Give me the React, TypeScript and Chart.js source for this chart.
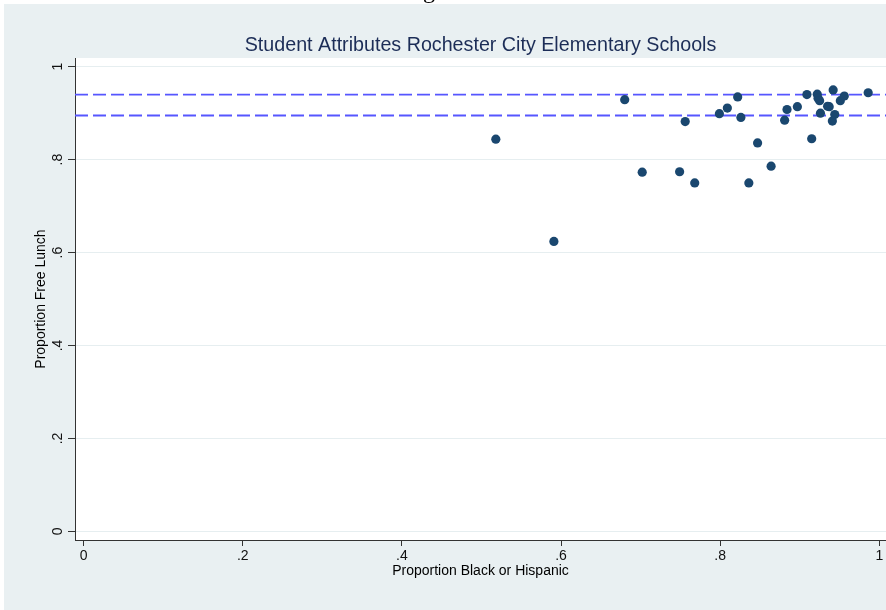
import React, { useEffect, useRef } from "react";
import { Chart, registerables } from "chart.js";

Chart.register(...registerables);

// Proportion Black or Hispanic (x) and Proportion Free Lunch (y), one entry per school
const pctBlackHispanic = [
  0.518, 0.591, 0.68, 0.702, 0.749, 0.756, 0.768, 0.799, 0.809, 0.822,
  0.826, 0.836, 0.847, 0.864, 0.881, 0.884, 0.897, 0.909, 0.915, 0.922,
  0.923, 0.925, 0.926, 0.935, 0.937, 0.942, 0.944, 0.941, 0.951, 0.956,
  0.986,
];
const pctFreeLunch = [
  0.844, 0.624, 0.929, 0.773, 0.774, 0.882, 0.75, 0.899, 0.911, 0.935,
  0.891, 0.75, 0.836, 0.786, 0.885, 0.908, 0.914, 0.94, 0.845, 0.941,
  0.932, 0.927, 0.9, 0.915, 0.914, 0.95, 0.897, 0.883, 0.927, 0.937,
  0.944,
];

// Dashed horizontal reference lines
const referenceLines = [0.94, 0.895];

const xTicks = [0, 0.2, 0.4, 0.6, 0.8, 1];
const xTickLabels = ["0", ".2", ".4", ".6", ".8", "1"];
const yTicks = [0, 0.2, 0.4, 0.6, 0.8, 1];
const yTickLabels = ["0", ".2", ".4", ".6", ".8", "1"];

const X_MIN = -0.0109;
const X_MAX = 1.0084;
const Y_MIN = -0.0185;
const Y_MAX = 1.0187;

const TITLE = "Student Attributes Rochester City Elementary Schools";
const X_TITLE = "Proportion Black or Hispanic";
const Y_TITLE = "Proportion Free Lunch";

const FONT = "'Liberation Sans', Arial, Helvetica, sans-serif";

const bgPlugin = {
  id: "stataBackground",
  beforeDraw(chart: any) {
    const { ctx, width, height, chartArea } = chart;
    ctx.save();
    ctx.fillStyle = "#ffffff";
    ctx.fillRect(0, 0, width, height);
    ctx.fillStyle = "#e9f0f2";
    ctx.fillRect(4, 4, width - 4, height - 4);
    ctx.fillStyle = "#ffffff";
    ctx.fillRect(
      chartArea.left,
      chartArea.top,
      width - chartArea.left,
      chartArea.bottom - chartArea.top
    );
    ctx.restore();
  },
};

export default function App() {
  const canvasRef = useRef<HTMLCanvasElement | null>(null);

  useEffect(() => {
    document.body.style.margin = "0";
    document.body.style.overflow = "hidden";
    const canvas = canvasRef.current;
    if (!canvas) return;

    const points = pctBlackHispanic.map((x, i) => ({ x, y: pctFreeLunch[i] }));

    const lineSets = referenceLines.map((v) => ({
      data: [
        { x: X_MIN, y: v },
        { x: X_MAX, y: v },
      ],
      showLine: true,
      borderColor: "#5656ff",
      backgroundColor: "#5656ff",
      borderWidth: 1.8,
      borderDash: [13, 5],
      pointRadius: 0,
      fill: false,
      order: 2,
    }));

    const chart = new Chart(canvas, {
      type: "scatter",
      data: {
        datasets: [
          {
            data: points,
            backgroundColor: "#1a476f",
            borderColor: "#1a476f",
            borderWidth: 0,
            pointRadius: 4.6,
            order: 0,
          } as any,
          ...(lineSets as any[]),
        ],
      },
      options: {
        animation: false,
        responsive: false,
        devicePixelRatio: 1,
        layout: {
          padding: { left: 4, top: 4, right: 0, bottom: 0 },
          autoPadding: false,
        } as any,
        plugins: {
          legend: { display: false },
          tooltip: { enabled: false },
          title: {
            display: true,
            text: TITLE,
            fullSize: false,
            color: "#1c2d57",
            font: { family: FONT, size: 19.7, weight: "normal" as any },
            padding: { top: 30, bottom: 0.4 },
          },
        },
        scales: {
          x: {
            type: "linear",
            min: X_MIN,
            max: X_MAX,
            afterBuildTicks: (s: any) => {
              s.ticks = xTicks.map((v) => ({ value: v }));
            },
            afterFit: (s: any) => {
              s.height = 70;
            },
            ticks: {
              callback: (_v: any, i: number) => xTickLabels[i],
              font: { family: FONT, size: 14 },
              color: "#111111",
              padding: 2,
              minRotation: 0,
              maxRotation: 0,
              autoSkip: false,
            },
            grid: {
              drawOnChartArea: false,
              drawTicks: true,
              tickLength: 6,
              tickColor: "#333333",
              tickWidth: 1,
            },
            border: { display: true, color: "#333333", width: 1 },
            title: {
              display: true,
              text: X_TITLE,
              color: "#000000",
              font: { family: FONT, size: 14 },
              padding: { top: 0, bottom: 30 },
            },
          } as any,
          y: {
            type: "linear",
            min: Y_MIN,
            max: Y_MAX,
            afterBuildTicks: (s: any) => {
              s.ticks = yTicks.map((v) => ({ value: v }));
            },
            afterFit: (s: any) => {
              s.width = 71;
            },
            ticks: {
              callback: (_v: any, i: number) => yTickLabels[i],
              font: { family: FONT, size: 14 },
              color: "#111111",
              padding: 4,
              minRotation: 90,
              maxRotation: 90,
              crossAlign: "center",
              autoSkip: false,
            },
            grid: {
              color: "#e6eef0",
              lineWidth: 1,
              drawTicks: true,
              tickLength: 7,
              tickColor: "#333333",
              tickWidth: 1,
            },
            border: { display: true, color: "#333333", width: 1 },
            title: {
              display: true,
              text: Y_TITLE,
              color: "#000000",
              font: { family: FONT, size: 14 },
              padding: { top: 28.6, bottom: 0 },
            },
          } as any,
        },
      },
      plugins: [bgPlugin],
    });

    return () => {
      chart.destroy();
    };
  }, []);

  return (
    <div style={{ position: "relative", width: 886, height: 610, overflow: "hidden" }}>
      <canvas ref={canvasRef} width={886} height={610} style={{ display: "block" }} />
      <div
        style={{
          position: "absolute",
          left: 423,
          top: -22,
          fontFamily: "'Liberation Serif', 'Times New Roman', serif",
          fontSize: 24,
          lineHeight: "24px",
          color: "#000",
          pointerEvents: "none",
        }}
      >
        g
      </div>
    </div>
  );
}
